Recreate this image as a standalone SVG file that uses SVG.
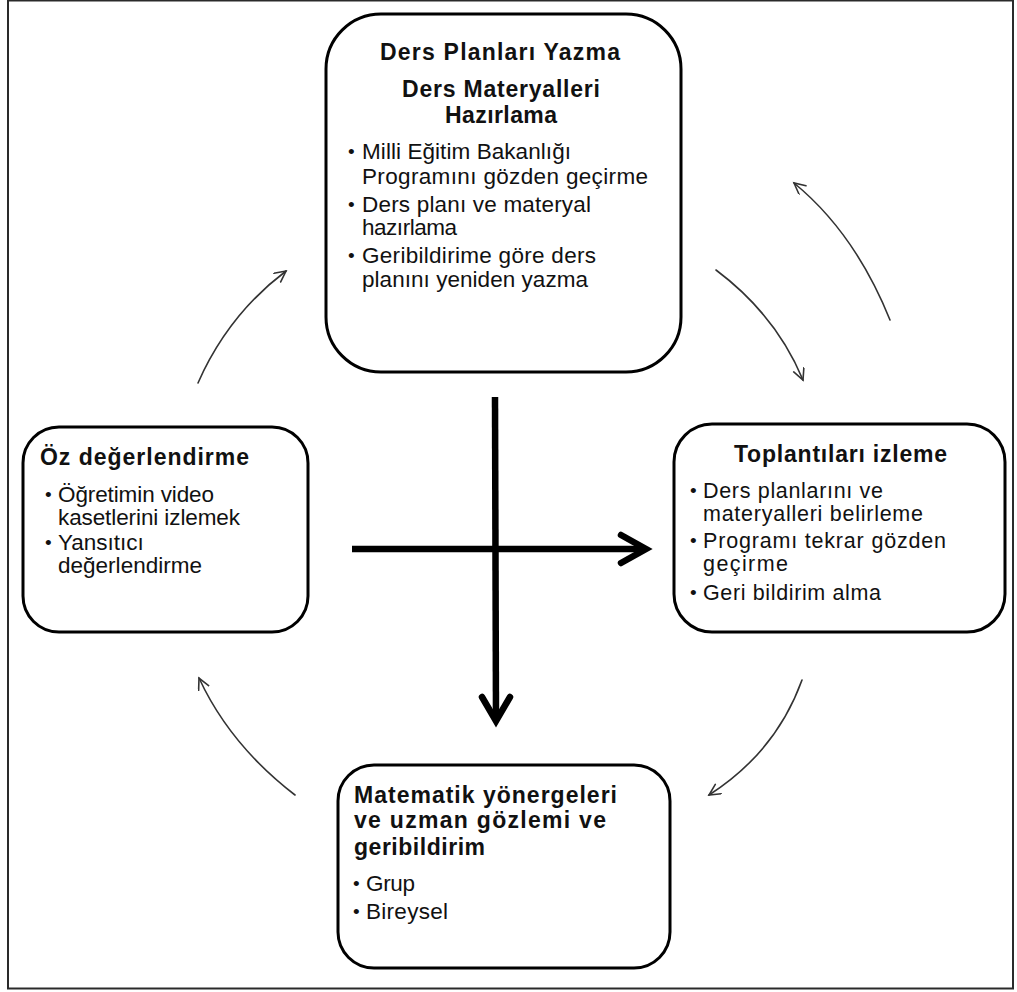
<svg xmlns="http://www.w3.org/2000/svg" width="1017" height="992" viewBox="0 0 1017 992">
  <defs>
    <style>
      .frame { fill: none; stroke: #2a2a2a; stroke-width: 2; }
      .box { fill: #ffffff; stroke: #000000; stroke-width: 3; }
      .title { font-family: "Liberation Sans", Arial, sans-serif; font-weight: bold; font-size: 23px; fill: #111111; }
      .item { font-family: "Liberation Sans", Arial, sans-serif; font-size: 22.5px; fill: #111111; }
      .item-sm { font-family: "Liberation Sans", Arial, sans-serif; font-size: 21.5px; fill: #111111; }
      .dot { font-family: "Liberation Sans", Arial, sans-serif; font-size: 19px; fill: #111111; }
      .cycle { fill: none; stroke: #333333; stroke-width: 1.6; stroke-linecap: round; }
      .thick { fill: none; stroke: #000000; stroke-width: 6.5; }
      .chevron { fill: none; stroke: #000000; stroke-width: 6.5; stroke-linecap: round; stroke-linejoin: miter; }
    </style>
    <marker id="open-head" markerWidth="16" markerHeight="16" refX="12" refY="6" orient="auto" markerUnits="userSpaceOnUse">
      <path d="M1,0.5 L12,6 L1,11.5" fill="none" stroke="#333333" stroke-width="1.6" stroke-linecap="round"/>
    </marker>
  </defs>

  <rect width="1017" height="992" fill="#ffffff"/>
  <rect class="frame" x="8" y="0.5" width="1005" height="988"/>

  <!-- Lesson planning -->
  <g id="node-ders-planlari">
    <rect class="box" x="326" y="14" width="355" height="358" rx="55" ry="55"/>
    <text class="title" x="380" y="60" textLength="240" lengthAdjust="spacing">Ders Planları Yazma</text>
    <text class="title" x="402" y="97" textLength="198" lengthAdjust="spacing">Ders Materyalleri</text>
    <text class="title" x="445" y="123" textLength="112" lengthAdjust="spacing">Hazırlama</text>
    <text class="dot" x="348" y="158">•</text>
    <text class="item" x="362" y="159" textLength="209" lengthAdjust="spacing">Milli Eğitim Bakanlığı</text>
    <text class="item" x="362" y="184" textLength="286" lengthAdjust="spacing">Programını gözden geçirme</text>
    <text class="dot" x="348" y="211">•</text>
    <text class="item" x="362" y="212" textLength="229" lengthAdjust="spacing">Ders planı ve materyal</text>
    <text class="item" x="362" y="235" textLength="95" lengthAdjust="spacing">hazırlama</text>
    <text class="dot" x="348" y="262">•</text>
    <text class="item" x="362" y="263" textLength="234" lengthAdjust="spacing">Geribildirime göre ders</text>
    <text class="item" x="362" y="287" textLength="226" lengthAdjust="spacing">planını yeniden yazma</text>
  </g>

  <!-- Meeting observation -->
  <g id="node-toplantilar">
    <rect class="box" x="674" y="424" width="331" height="208" rx="38" ry="38"/>
    <text class="title" x="734" y="462" textLength="213" lengthAdjust="spacing">Toplantıları izleme</text>
    <text class="dot" x="690" y="497">•</text>
    <text class="item-sm" x="703" y="498" textLength="180" lengthAdjust="spacing">Ders planlarını ve</text>
    <text class="item-sm" x="703" y="521" textLength="220" lengthAdjust="spacing">materyalleri belirleme</text>
    <text class="dot" x="690" y="547">•</text>
    <text class="item-sm" x="703" y="548" textLength="243" lengthAdjust="spacing">Programı tekrar gözden</text>
    <text class="item-sm" x="703" y="571" textLength="85" lengthAdjust="spacing">geçirme</text>
    <text class="dot" x="690" y="599">•</text>
    <text class="item-sm" x="703" y="600" textLength="178" lengthAdjust="spacing">Geri bildirim alma</text>
  </g>

  <!-- Self evaluation -->
  <g id="node-oz-degerlendirme">
    <rect class="box" x="23" y="427" width="285" height="205" rx="36" ry="36"/>
    <text class="title" x="40" y="465" textLength="209" lengthAdjust="spacing">Öz değerlendirme</text>
    <text class="dot" x="45" y="501">•</text>
    <text class="item" x="58" y="502" textLength="156" lengthAdjust="spacing">Öğretimin video</text>
    <text class="item" x="58" y="525" textLength="182" lengthAdjust="spacing">kasetlerini izlemek</text>
    <text class="dot" x="45" y="549">•</text>
    <text class="item" x="58" y="550">Yansıtıcı</text>
    <text class="item" x="58" y="573" textLength="144" lengthAdjust="spacing">değerlendirme</text>
  </g>

  <!-- Guidance and expert observation -->
  <g id="node-matematik">
    <rect class="box" x="338" y="765" width="332" height="203" rx="36" ry="36"/>
    <text class="title" x="354" y="803" textLength="263" lengthAdjust="spacing">Matematik yönergeleri</text>
    <text class="title" x="354" y="828" textLength="252" lengthAdjust="spacing">ve uzman gözlemi ve</text>
    <text class="title" x="354" y="855" textLength="131" lengthAdjust="spacing">geribildirim</text>
    <text class="dot" x="353" y="890">•</text>
    <text class="item" x="366" y="891" textLength="49" lengthAdjust="spacing">Grup</text>
    <text class="dot" x="353" y="918">•</text>
    <text class="item" x="366" y="919" textLength="82" lengthAdjust="spacing">Bireysel</text>
  </g>

  <g id="connectors">
    <!-- cycle arrows -->
    <path class="cycle" d="M198,383 Q228,315 286,271" marker-end="url(#open-head)"/>
    <path class="cycle" d="M716,270 Q776,315 803,380" marker-end="url(#open-head)"/>
    <path class="cycle" d="M890,320 Q855,233 794,183" marker-end="url(#open-head)"/>
    <path class="cycle" d="M802,680 Q776,752 709,795" marker-end="url(#open-head)"/>
    <path class="cycle" d="M295,795 Q230,745 199,678" marker-end="url(#open-head)"/>

    <!-- central cross -->
    <line class="thick" x1="495" y1="397" x2="496" y2="720"/>
    <polyline class="chevron" points="482,697 496,721 510,697"/>
    <line class="thick" x1="352" y1="549" x2="645" y2="549"/>
    <polyline class="chevron" points="621,535 646,549 621,563"/>
  </g>
</svg>
